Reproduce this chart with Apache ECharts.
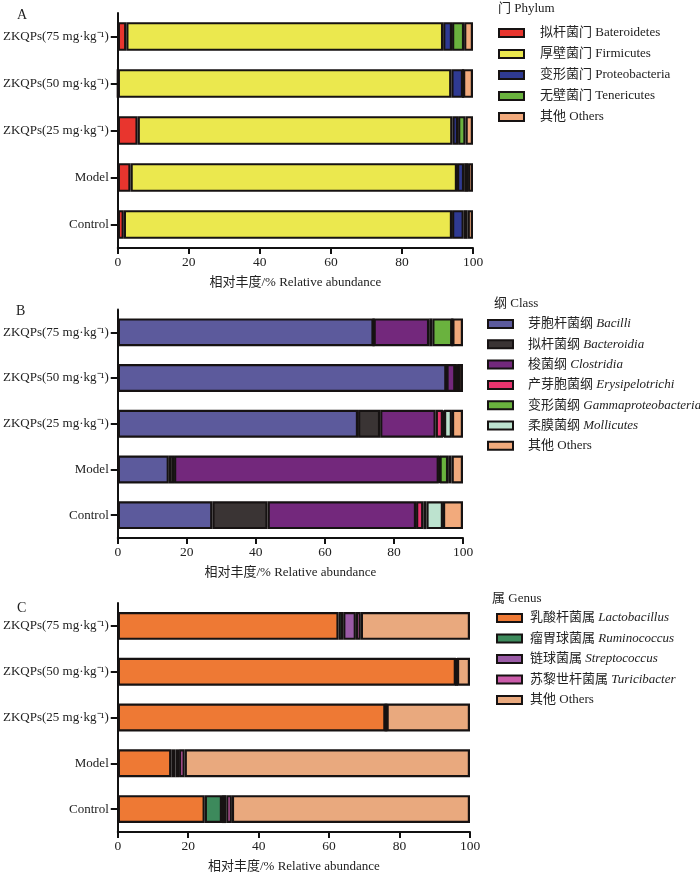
<!DOCTYPE html>
<html>
<head>
<meta charset="utf-8">
<script src="https://cdn.jsdelivr.net/npm/echarts@6/dist/echarts.min.js"></script>
<style>
html,body{margin:0;padding:0;background:#fff;}
#main{width:700px;height:874px;}
</style>
</head>
<body>
<div id="main"></div>
<script>
// Categories (bottom to top)
const categories = ['Control', 'Model', 'ZKQPs(25 mg·kg⁻¹)', 'ZKQPs(50 mg·kg⁻¹)', 'ZKQPs(75 mg·kg⁻¹)'];
const xTicks = [0, 20, 40, 60, 80, 100];
const axisTitle = '相对丰度/% Relative abundance';

// Panel A: Phylum
const phylumNames = ['拟杆菌门 Bateroidetes', '厚壁菌门 Firmicutes', '变形菌门 Proteobacteria', '无壁菌门 Tenericutes', '其他 Others'];
const phylumBacteroidetes = [1.7, 3.6, 5.6, 0.0, 2.4];
const phylumFirmicutes    = [92.4, 91.9, 88.6, 93.9, 89.2];
const phylumProteobacteria= [3.3, 2.0, 1.6, 3.3, 2.5];
const phylumTenericutes   = [1.1, 1.1, 2.1, 0.0, 3.4];
const phylumOthers        = [1.5, 1.4, 2.1, 2.8, 2.5];

// Panel B: Class
const classNames = ['芽胞杆菌纲 Bacilli', '拟杆菌纲 Bacteroidia', '梭菌纲 Clostridia', '产芽胞菌纲 Erysipelotrichi', '变形菌纲 Gammaproteobacteria', '柔膜菌纲 Mollicutes', '其他 Others'];
const classBacilli        = [27.4, 14.8, 69.6, 95.2, 74.1];
const classBacteroidia    = [16.0, 1.5, 6.4, 0.0, 0.0];
const classClostridia     = [43.0, 76.7, 16.1, 2.6, 16.1];
const classErysipelotrichi= [2.1, 0.2, 2.1, 0.0, 0.9];
const classGamma          = [0.9, 2.5, 0.3, 0.9, 5.8];
const classMollicutes     = [4.8, 1.0, 2.3, 0.0, 0.0];
const classOthers         = [5.8, 3.3, 3.2, 1.3, 3.1];

// Panel C: Genus
const genusNames = ['乳酸杆菌属 Lactobacillus', '瘤胃球菌属 Ruminococcus', '链球菌属 Streptococcus', '苏黎世杆菌属 Turicibacter', '其他 Others'];
const genusLactobacillus  = [24.7, 15.2, 76.0, 96.0, 62.7];
const genusRuminococcus   = [4.9, 1.2, 0.1, 0.1, 1.3];
const genusStreptococcus  = [1.2, 1.0, 0.1, 0.1, 3.6];
const genusTuricibacter   = [1.6, 1.6, 0.1, 0.1, 1.4];
const genusOthers         = [67.6, 81.0, 23.7, 3.7, 31.0];

const phylumColors = ['#E8352E', '#EBE84E', '#2F3A92', '#6AB23E', '#F2AA7C'];
const classColors  = ['#5C5A9C', '#3A3434', '#73287C', '#E8346E', '#6AB23E', '#BDE3CF', '#F2AA7C'];
const genusColors  = ['#EE7934', '#3D8A5C', '#9A5BA6', '#CB5CAA', '#E9A97E'];

const phylumData = [phylumBacteroidetes, phylumFirmicutes, phylumProteobacteria, phylumTenericutes, phylumOthers];
const classData  = [classBacilli, classBacteroidia, classClostridia, classErysipelotrichi, classGamma, classMollicutes, classOthers];
const genusData  = [genusLactobacillus, genusRuminococcus, genusStreptococcus, genusTuricibacter, genusOthers];

const FONT = '"Liberation Serif", "Times New Roman", "Noto Sans CJK SC", serif';

const grids = [
  {left: 117, width: 356, top: 13, height: 235},
  {left: 116, width: 347, top: 309.5, height: 228.5},
  {left: 115, width: 355, top: 603, height: 234}
];

function makeSeries(names, data, colors, gi, stackId) {
  return names.map((n, i) => ({
    name: n + (gi === 0 ? '' : (gi === 1 ? '\u200B' : '\u200B\u200B')),
    type: 'bar',
    stack: stackId,
    xAxisIndex: gi,
    yAxisIndex: gi,
    barCategoryGap: '39%',
    data: data[i],
    itemStyle: {color: colors[i], borderColor: '#161212', borderWidth: 2.2},
    emphasis: {disabled: true},
    animation: false
  }));
}

const series = [].concat(
  makeSeries(phylumNames, phylumData, phylumColors, 0, 'a'),
  makeSeries(classNames, classData, classColors, 1, 'b'),
  makeSeries(genusNames, genusData, genusColors, 2, 'c')
);

const xAxes = grids.map((g, i) => ({
  type: 'value', gridIndex: i, min: xTicks[0], max: xTicks[xTicks.length - 1], interval: xTicks[1] - xTicks[0],
  name: axisTitle, nameLocation: 'middle', nameGap: 28,
  nameTextStyle: {fontFamily: FONT, fontSize: 13, color: '#222'},
  axisLine: {show: true, lineStyle: {color: '#111', width: 2}},
  axisTick: {show: true, length: 6, lineStyle: {color: '#111', width: 2}},
  axisLabel: {fontFamily: FONT, fontSize: 13.5, color: '#222', margin: 8},
  splitLine: {show: false}
}));

const yAxes = grids.map((g, i) => ({
  type: 'category', gridIndex: i, data: categories,
  axisLine: {show: true, lineStyle: {color: '#111', width: 2}},
  axisTick: {show: true, alignWithLabel: true, length: 7, lineStyle: {color: '#111', width: 2}},
  axisLabel: {fontFamily: FONT, fontSize: 13, color: '#222', margin: 9}
}));

function italicFormatter(name) {
  const n = name.replace(/\u200B/g, '');
  const idx = n.indexOf(' ');
  const cn = n.slice(0, idx);
  const la = n.slice(idx + 1);
  if (la === 'Others') return '{n|' + n + '}';
  return '{n|' + cn + ' }{i|' + la + '}';
}

function legendOf(left, top, gap, pad, data, fmt) {
  return {
    orient: 'vertical',
    left: left, top: top, itemGap: gap,
    itemWidth: 25, itemHeight: 8,
    icon: 'rect',
    selectedMode: false,
    data: data,
    formatter: fmt,
    textStyle: {
      fontFamily: FONT, fontSize: 13, color: '#222', lineHeight: 14, padding: [0, 0, 0, pad],
      rich: {
        n: {fontFamily: FONT, fontSize: 13, color: '#222'},
        i: {fontFamily: FONT, fontSize: 13, color: '#222', fontStyle: 'italic'}
      }
    }
  };
}

const legends = [
  legendOf(493, 21, 7, 11, phylumNames, n => '{n|' + n + '}'),
  legendOf(482, 312, 6.3, 10, classNames.map(n => n + '\u200B'), italicFormatter),
  legendOf(491, 606, 6.5, 3, genusNames.map(n => n + '\u200B\u200B'), italicFormatter)
];

const titleStyle = {fontFamily: FONT, fontSize: 13, fontWeight: 'normal', color: '#222'};
const letterStyle = {fontFamily: FONT, fontSize: 14, fontWeight: 'normal', color: '#222'};
const titles = [
  {text: 'A', left: 12, top: 3, textStyle: letterStyle},
  {text: 'B', left: 11, top: 299, textStyle: letterStyle},
  {text: 'C', left: 12, top: 596, textStyle: letterStyle},
  {text: '门 Phylum', left: 493, top: -3, textStyle: titleStyle},
  {text: '纲 Class', left: 489, top: 292, textStyle: titleStyle},
  {text: '属 Genus', left: 487, top: 587, textStyle: titleStyle}
];

const chart = echarts.init(document.getElementById('main'), null, {renderer: 'canvas'});
chart.setOption({
  animation: false,
  backgroundColor: '#fff',
  title: titles,
  grid: grids,
  xAxis: xAxes,
  yAxis: yAxes,
  legend: legends,
  series: series
});
</script>
</body>
</html>
